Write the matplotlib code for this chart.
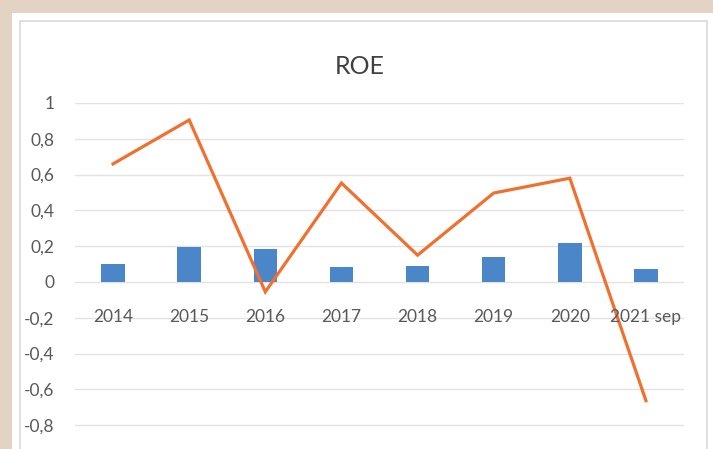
import matplotlib.pyplot as plt
from matplotlib.patches import Rectangle

# data
years = ['2014', '2015', '2016', '2017', '2018', '2019', '2020', '2021 sep']
bar_vals = [0.10, 0.195, 0.185, 0.085, 0.09, 0.14, 0.22, 0.075]
roe = [0.66, 0.905, -0.055, 0.553, 0.15, 0.497, 0.58, -0.663]
yticks = [1, 0.8, 0.6, 0.4, 0.2, 0, -0.2, -0.4, -0.6, -0.8]

W, H = 713, 449
fig = plt.figure(figsize=(W / 100, H / 100), dpi=100)
fig.patch.set_facecolor('#E3D3C3')

# white card and its thin border
fig.patches.append(Rectangle((12 / W, 0), 1, 1 - 13 / H, transform=fig.transFigure,
                             facecolor='white', edgecolor='none', zorder=0))
fig.patches.append(Rectangle((20 / W, -0.1), (707 - 20) / W, 1.1 - 21 / H, transform=fig.transFigure,
                             facecolor='none', edgecolor='#DADADA', lw=1.2, zorder=1))

# plot area: y=1 at px 103, y=-1 at px 461 (cut off by the figure edge)
left, right = 75, 684
top, bot = 103, 461
ax = fig.add_axes([left / W, 1 - bot / H, (right - left) / W, (bot - top) / H])
ax.set_zorder(2)
ax.set_facecolor('none')

x = range(len(years))
ax.bar(x, bar_vals, width=0.31, color='#4A86C8', zorder=2)
ax.plot(x, roe, color='#F07030', lw=2.3, zorder=3, solid_joinstyle='miter')

ax.set_xlim(-0.5, len(years) - 0.5)
ax.set_ylim(-1, 1)
ax.set_yticks(yticks)
ax.set_yticklabels([str(v).replace('.', ',') if v not in (0, 1) else str(v) for v in yticks],
                   fontname='Lato', fontsize=12.5, color='#595959')
ax.tick_params(axis='y', length=0, pad=15)
ax.set_xticks([])
ax.grid(axis='y', color='#E3E3E3', lw=1, zorder=0)
for s in ax.spines.values():
    s.set_visible(False)

for i, lab in enumerate(years):
    ax.annotate(lab, (i, 0), xytext=(0, -27), textcoords='offset pixels',
                ha='center', va='top', fontname='Lato', fontsize=12.5, color='#595959')

fig.text(360 / W, 1 - 66 / H, 'ROE', ha='center', va='center',
         fontname='Lato', fontsize=18, color='#404040')

fig.savefig('out.png', dpi=100, facecolor=fig.get_facecolor())
